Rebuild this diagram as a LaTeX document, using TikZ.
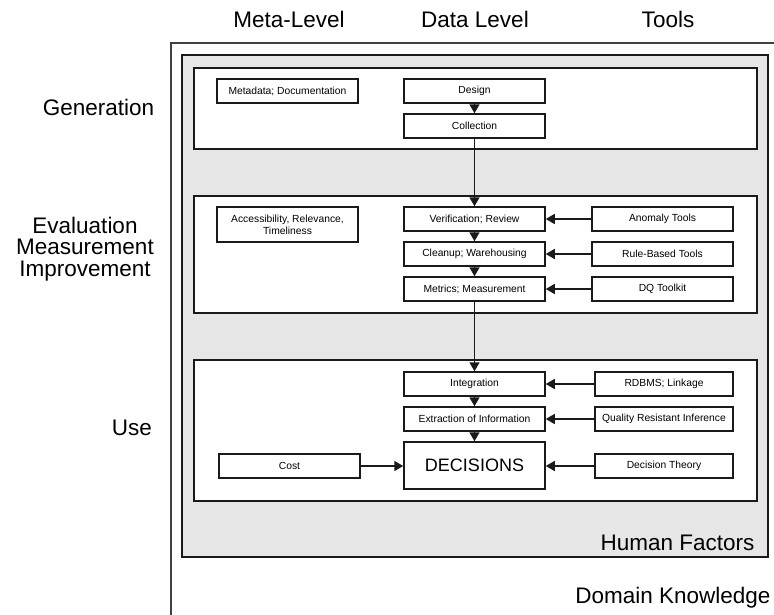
\documentclass[tikz,border=0pt]{standalone}
\usepackage{fontspec}
\setmainfont{Liberation Sans}
\usetikzlibrary{arrows.meta}
\definecolor{edge}{HTML}{1A1A1A}
\definecolor{hfgray}{HTML}{E6E6E6}
\begin{document}
\begin{tikzpicture}[x=1pt,y=-1pt,
  box/.style={draw=edge, line width=1.5pt, fill=white, minimum width=141pt, minimum height=24pt, inner sep=1pt, font=\fontsize{10.3}{12}\selectfont, align=center},
  panel/.style={draw=edge, line width=1.5pt, fill=white},
  big/.style={font=\fontsize{22.5}{21.7}\selectfont, align=center},
  arr/.style={line width=1.6pt, draw=edge, -{Triangle[length=9pt,width=10pt]}}
]
\useasboundingbox (0,0) rectangle (774,614);
\clip (0,0) rectangle (774,614);
% outer Domain Knowledge frame
\draw[line width=1.4pt, draw=black!75] (171,640) -- (171,43) -- (800,43);
% Human Factors frame
\draw[draw=edge, line width=1.5pt, fill=hfgray] (182,55) rectangle (768,557);
% panels
\node[panel, minimum width=563pt, minimum height=81pt, anchor=north west] (p1) at (193,67) {};
\node[panel, minimum width=563pt, minimum height=117pt, anchor=north west] (p2) at (193,195) {};
\node[panel, minimum width=563pt, minimum height=141pt, anchor=north west] (p3) at (193,359) {};
% headers
\node[big] (hmeta) at (289,19) {Meta-Level};
\node[big] (hdata) at (475,19) {Data Level};
\node[big] (htools) at (668,19) {Tools};
% row labels
\node[big] (lgen) at (98.5,107) {Generation};
\node[big] (leval) at (85,249) {Evaluation\\Measurement\\Improvement};
\node[big] (luse) at (132,428) {Use};
\node[big, anchor=east] (lhf) at (758,543) {Human Factors};
\node[big, anchor=east] (ldk) at (774,598) {Domain Knowledge};
% Generation
\node[box] (meta) at (287.5,91) {Metadata; Documentation};
\node[box] (design) at (474.5,91) {Design};
\node[box] (collect) at (474.5,126) {Collection};
% Evaluation
\node[box, minimum height=35pt] (access) at (287.5,224.5) {Accessibility, Relevance,\\Timeliness};
\node[box] (verif) at (474.5,219) {Verification; Review};
\node[box] (clean) at (474.5,254) {Cleanup; Warehousing};
\node[box] (metric) at (474.5,289) {Metrics; Measurement};
\node[box] (anom) at (662.5,219) {Anomaly Tools};
\node[box] (rule) at (662.5,254) {Rule-Based Tools};
\node[box] (dq) at (662.5,289) {DQ Toolkit};
% Use
\node[box] (integ) at (474.5,384) {Integration};
\node[box] (extract) at (474.5,419) {Extraction of Information};
\node[box, minimum height=47pt, font=\fontsize{18}{20}\selectfont] (dec) at (474.5,465.5) {DECISIONS};
\node[box, minimum width=138pt] (rdbms) at (664,384) {RDBMS; Linkage};
\node[box, minimum width=138pt] (qri) at (664,419) {Quality Resistant Inference};
\node[box, minimum width=138pt] (dtheory) at (664,466) {Decision Theory};
\node[box] (cost) at (289.5,466) {Cost};
% connectors
\draw[arr] (design) -- (collect);
\draw[arr] (collect) -- (verif);
\draw[arr] (verif) -- (clean);
\draw[arr] (clean) -- (metric);
\draw[arr] (metric) -- (integ);
\draw[arr] (integ) -- (extract);
\draw[arr] (extract) -- (dec);
\draw[arr] (anom) -- (verif);
\draw[arr] (rule) -- (clean);
\draw[arr] (dq) -- (metric);
\draw[arr] (rdbms) -- (integ);
\draw[arr] (qri) -- (extract);
\draw[arr] (dtheory) -- (dec.east |- dtheory);
\draw[arr] (cost) -- (dec.west |- cost);
\end{tikzpicture}
\end{document}
